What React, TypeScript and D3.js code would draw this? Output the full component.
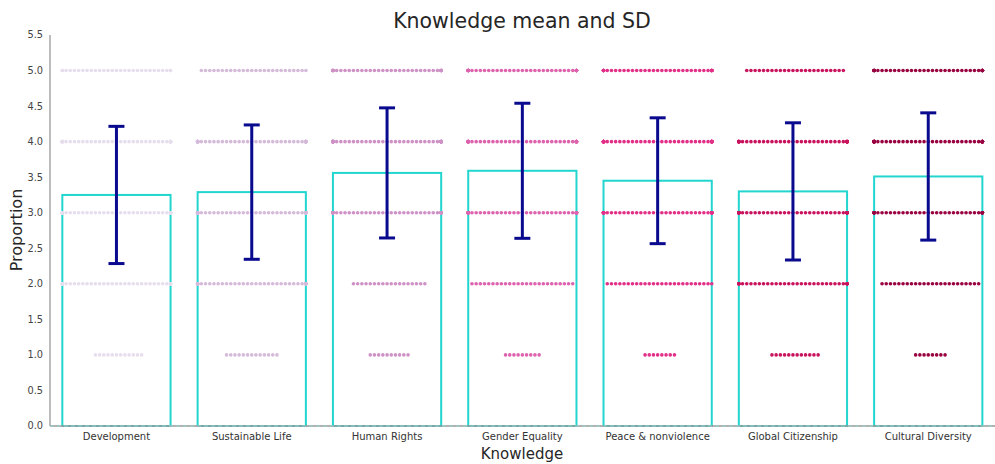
import React from "react";
import * as d3 from "d3";

// Knowledge domains along the x axis
const categories = [
  "Development",
  "Sustainable Life",
  "Human Rights",
  "Gender Equality",
  "Peace & nonviolence",
  "Global Citizenship",
  "Cultural Diversity",
];

// Mean score per domain and its standard deviation
const means = [3.25, 3.29, 3.56, 3.59, 3.45, 3.30, 3.51];
const sds = [0.965, 0.945, 0.915, 0.95, 0.885, 0.965, 0.895];

// Answer levels and how many responses fell on each level, per domain
const scoreLevels = [1, 2, 3, 4, 5];
const countsDevelopment = [12, 40, 50, 45, 30];
const countsSustainable = [13, 38, 50, 45, 26];
const countsHumanRights = [10, 18, 45, 50, 40];
const countsGender = [9, 25, 45, 45, 45];
const countsPeace = [8, 26, 45, 45, 38];
const countsCitizenship = [12, 35, 45, 40, 24];
const countsCultural = [8, 24, 40, 45, 40];
const levelCounts = [
  countsDevelopment,
  countsSustainable,
  countsHumanRights,
  countsGender,
  countsPeace,
  countsCitizenship,
  countsCultural,
];

const yTicks = [0, 0.5, 1, 1.5, 2, 2.5, 3, 3.5, 4, 4.5, 5, 5.5];

const W = 995;
const H = 464;

export default function App() {
  const x = d3
    .scaleBand<string>()
    .domain(categories)
    .range([48.8, 995.9])
    .paddingInner(0.2)
    .paddingOuter(0.1);
  const y = d3.scaleLinear().domain([0, 5.5]).range([426, 35]);

  const palette = d3
    .range(categories.length)
    .map((i) => d3.interpolatePuRd((i + 1) / (categories.length + 1)));

  const dotGap = 4.2;
  const dotR = 1.8;
  const half = x.bandwidth() / 2;

  // Beeswarm placement for points sharing one value: centre, then alternating sides
  // (right first), with points that do not fit pushed to the band edge.
  const dots: { cx: number; cy: number; fill: string; key: string }[] = [];
  categories.forEach((c, ci) => {
    const center = (x(c) ?? 0) + half;
    scoreLevels.forEach((lv, li) => {
      const n = levelCounts[ci][li];
      for (let i = 0; i < n; i++) {
        const k = Math.ceil(i / 2);
        const sign = i % 2 === 1 ? 1 : -1;
        let off = k * dotGap * sign;
        off = Math.max(-half, Math.min(half, off));
        dots.push({
          cx: center + off,
          cy: y(lv),
          fill: palette[ci],
          key: `${ci}-${li}-${i}`,
        });
      }
    });
  });

  const font = "DejaVu Sans, sans-serif";

  return (
    <svg
      width={W}
      height={H}
      style={{ position: "absolute", left: 0, top: 0, background: "#fff" }}
      fontFamily={font}
    >
      <text x={522} y={28} textAnchor="middle" fontSize={20.5} fill="#262626">
        Knowledge mean and SD
      </text>

      {/* bars: means with outline only */}
      {categories.map((c, i) => (
        <rect
          key={c}
          x={x(c)}
          y={y(means[i])}
          width={x.bandwidth()}
          height={y(0) - y(means[i])}
          fill="none"
          stroke="#22d6cf"
          strokeWidth={2}
        />
      ))}

      {/* swarm of individual answers */}
      {dots.map((d) => (
        <circle key={d.key} cx={d.cx} cy={d.cy} r={dotR} fill={d.fill} />
      ))}

      {/* standard deviation error bars */}
      {categories.map((c, i) => {
        const cx = (x(c) ?? 0) + half;
        const top = y(means[i] + sds[i]);
        const bot = y(means[i] - sds[i]);
        return (
          <g key={c} stroke="#0a0a8f" strokeWidth={3}>
            <line x1={cx} x2={cx} y1={top} y2={bot} />
            <line x1={cx - 8} x2={cx + 8} y1={top} y2={top} />
            <line x1={cx - 8} x2={cx + 8} y1={bot} y2={bot} />
          </g>
        );
      })}

      {/* axes */}
      <line x1={50} x2={50} y1={35} y2={426} stroke="#999" strokeWidth={1.3} />
      <line x1={50} x2={995} y1={426} y2={426} stroke="#999" strokeWidth={1.3} />
      <line
        x1={50}
        x2={995}
        y1={426}
        y2={426}
        stroke="#8fd3cf"
        strokeWidth={1}
        strokeDasharray="4,3"
      />

      {yTicks.map((t) => (
        <text
          key={t}
          x={43}
          y={y(t)}
          dy="0.35em"
          textAnchor="end"
          fontSize={9.8}
          fill="#444"
        >
          {t.toFixed(1)}
        </text>
      ))}

      {categories.map((c) => (
        <text
          key={c}
          x={(x(c) ?? 0) + half}
          y={440}
          textAnchor="middle"
          fontSize={10}
          fill="#333"
        >
          {c}
        </text>
      ))}

      <text x={522} y={459} textAnchor="middle" fontSize={15} fill="#262626">
        Knowledge
      </text>
      <text
        transform="translate(22,230) rotate(-90)"
        textAnchor="middle"
        fontSize={16}
        fill="#262626"
      >
        Proportion
      </text>
    </svg>
  );
}
